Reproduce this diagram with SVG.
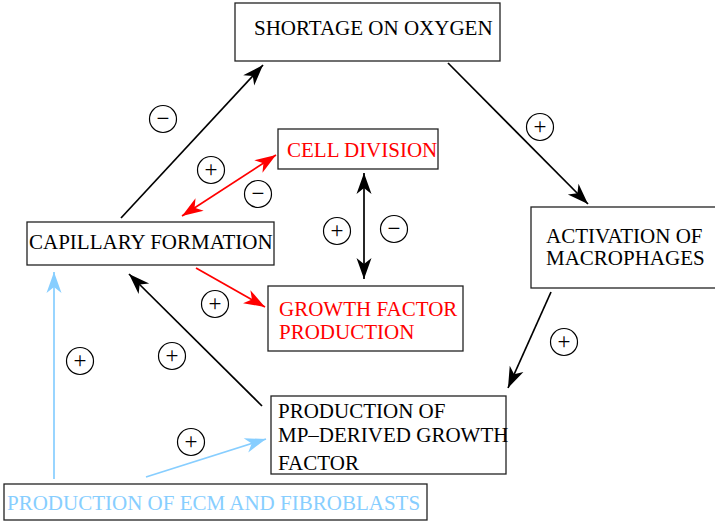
<svg xmlns="http://www.w3.org/2000/svg" width="715" height="524" viewBox="0 0 715 524">
  <style>
    .box { fill: #fff; stroke: #222; stroke-width: 1.3; }
    .lbl { font-family: "Liberation Serif", "Times New Roman", serif; font-size: 21px; fill: #000; }
    .red { fill: #ff0000; }
    .blue { fill: #87ceff; }
    .sign circle { fill: none; stroke: #000; stroke-width: 1.2; }
    .sign text { font-family: "Liberation Serif", "Times New Roman", serif; font-size: 23px; text-anchor: middle; fill: #000; }
    .edge { fill: none; stroke-width: 1.7; }
    .k { stroke: #000; }
    .r { stroke: #ff0000; }
    .b { stroke: #87ceff; }
  </style>
  <defs>
    <marker id="ah-k" viewBox="-22 -8 23 16" markerWidth="23" markerHeight="16" refX="0" refY="0" orient="auto-start-reverse" markerUnits="userSpaceOnUse">
      <path d="M0,0 L-21,-7.5 L-15,0 L-21,7.5 Z" fill="#000"/>
    </marker>
    <marker id="ah-r" viewBox="-22 -8 23 16" markerWidth="23" markerHeight="16" refX="0" refY="0" orient="auto-start-reverse" markerUnits="userSpaceOnUse">
      <path d="M0,0 L-21,-7.5 L-15,0 L-21,7.5 Z" fill="#ff0000"/>
    </marker>
    <marker id="ah-b" viewBox="-22 -8 23 16" markerWidth="23" markerHeight="16" refX="0" refY="0" orient="auto-start-reverse" markerUnits="userSpaceOnUse">
      <path d="M0,0 L-21,-7.5 L-15,0 L-21,7.5 Z" fill="#87ceff"/>
    </marker>
  </defs>

  <rect width="715" height="524" fill="#fff"/>

  <!-- connectors -->
  <g id="connectors">
    <line class="edge k" x1="121" y1="218" x2="263" y2="65" marker-end="url(#ah-k)"/>
    <line class="edge k" x1="448" y1="63" x2="588" y2="204" marker-end="url(#ah-k)"/>
    <line class="edge k" x1="551" y1="292" x2="508" y2="388" marker-end="url(#ah-k)"/>
    <line class="edge k" x1="262" y1="406" x2="129" y2="274" marker-end="url(#ah-k)"/>
    <line class="edge k" x1="364" y1="173" x2="364" y2="279" marker-start="url(#ah-k)" marker-end="url(#ah-k)"/>
    <line class="edge r" x1="182" y1="216" x2="276" y2="155" marker-start="url(#ah-r)" marker-end="url(#ah-r)"/>
    <line class="edge r" x1="196" y1="268" x2="265" y2="307" marker-end="url(#ah-r)"/>
    <line class="edge b" x1="54" y1="479" x2="54" y2="272" marker-end="url(#ah-b)"/>
    <line class="edge b" x1="146" y1="477" x2="266" y2="439" marker-end="url(#ah-b)"/>
  </g>

  <!-- nodes -->
  <g id="shortage">
    <rect class="box" x="235" y="3" width="265" height="58"/>
    <text class="lbl" x="254" y="35">SHORTAGE ON OXYGEN</text>
  </g>
  <g id="cell-division">
    <rect class="box" x="278" y="129" width="160" height="40"/>
    <text class="lbl red" x="287" y="157">CELL DIVISION</text>
  </g>
  <g id="capillary">
    <rect class="box" x="27" y="222" width="247" height="43"/>
    <text class="lbl" x="29" y="249">CAPILLARY FORMATION</text>
  </g>
  <g id="growth-factor">
    <rect class="box" x="268" y="286" width="195" height="65"/>
    <text class="lbl red" x="279" y="316">GROWTH FACTOR</text>
    <text class="lbl red" x="279" y="339">PRODUCTION</text>
  </g>
  <g id="macrophages">
    <rect class="box" x="531" y="207" width="190" height="81"/>
    <text class="lbl" x="546" y="243">ACTIVATION OF</text>
    <text class="lbl" x="546" y="265">MACROPHAGES</text>
  </g>
  <g id="mp-growth-factor">
    <rect class="box" x="271" y="396" width="235" height="78"/>
    <text class="lbl" x="278" y="418">PRODUCTION OF</text>
    <text class="lbl" x="278" y="442">MP–DERIVED GROWTH</text>
    <text class="lbl" x="278" y="470">FACTOR</text>
  </g>
  <g id="ecm">
    <rect class="box" x="4" y="484" width="423" height="36"/>
    <text class="lbl blue" x="7" y="510">PRODUCTION OF ECM AND FIBROBLASTS</text>
  </g>

  <!-- effect signs -->
  <g class="sign">
    <circle cx="163" cy="119" r="13.5"/><text x="163" y="126">−</text>
    <circle cx="211" cy="170" r="13.5"/><text x="211" y="177">+</text>
    <circle cx="258" cy="194" r="13.5"/><text x="258" y="201">−</text>
    <circle cx="337" cy="231" r="13.5"/><text x="337" y="238">+</text>
    <circle cx="394" cy="229" r="13.5"/><text x="394" y="236">−</text>
    <circle cx="540" cy="127" r="13.5"/><text x="540" y="134">+</text>
    <circle cx="564" cy="342" r="13.5"/><text x="564" y="349">+</text>
    <circle cx="215" cy="304" r="13.5"/><text x="215" y="311">+</text>
    <circle cx="80" cy="361" r="13.5"/><text x="80" y="368">+</text>
    <circle cx="172" cy="356" r="13.5"/><text x="172" y="363">+</text>
    <circle cx="191" cy="442" r="13.5"/><text x="191" y="449">+</text>
  </g>
</svg>
